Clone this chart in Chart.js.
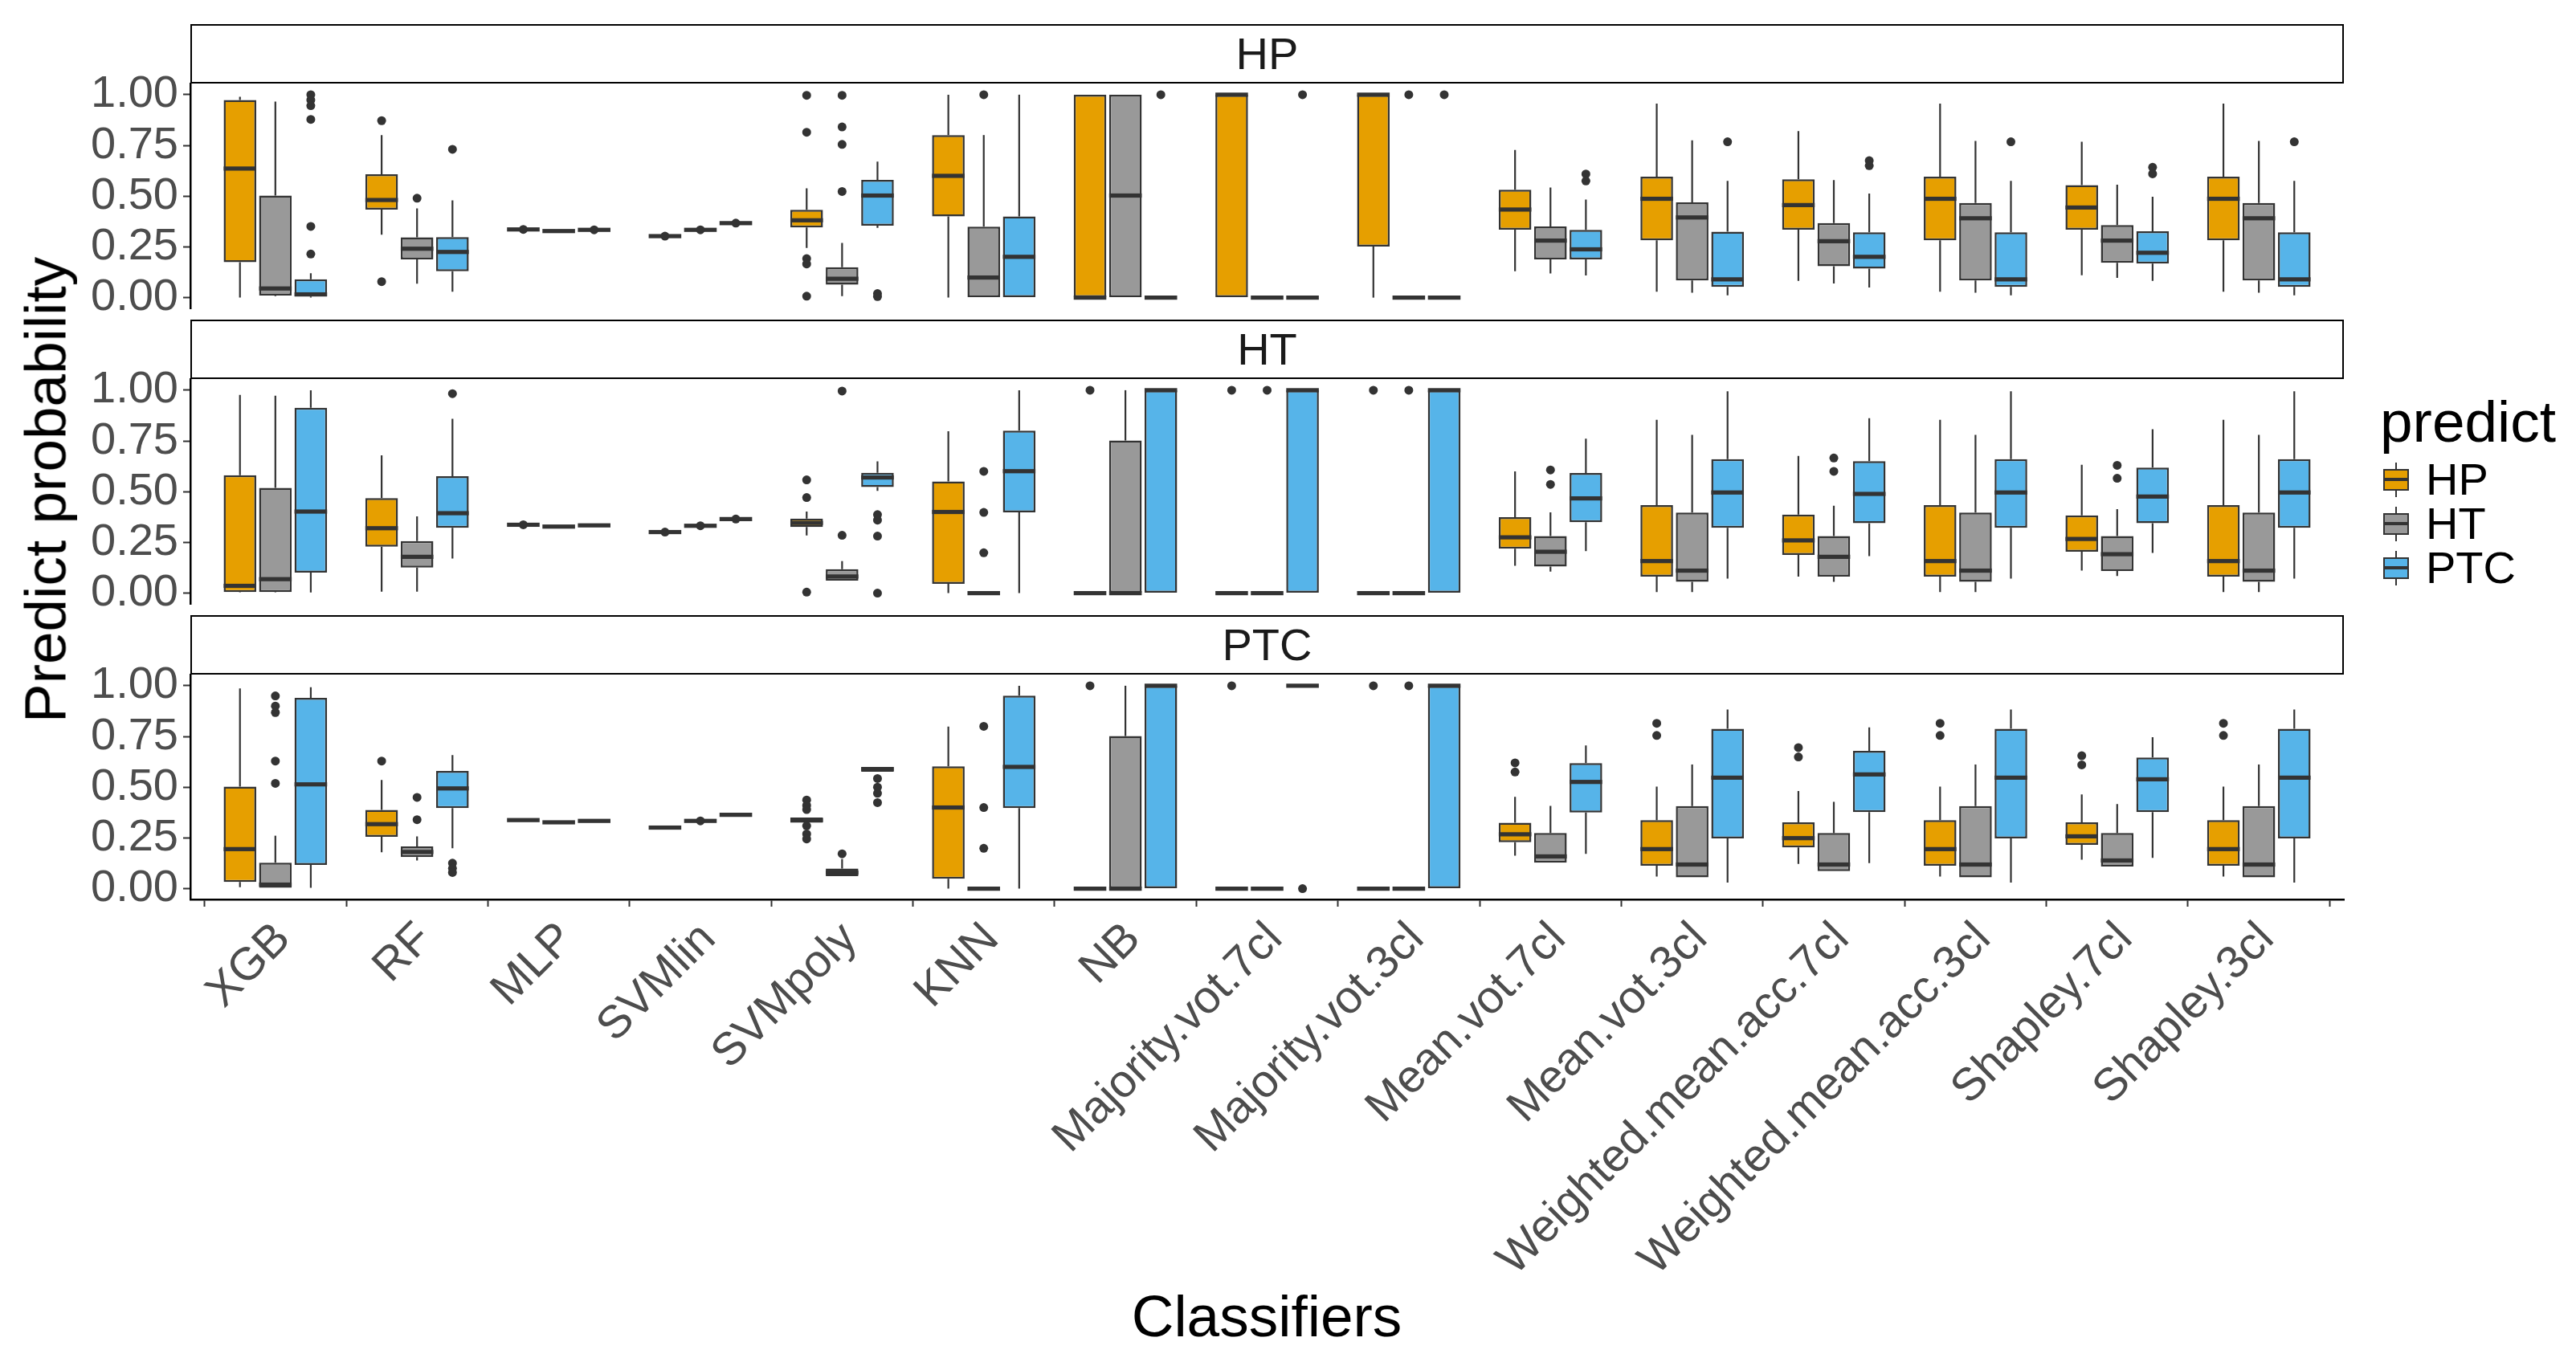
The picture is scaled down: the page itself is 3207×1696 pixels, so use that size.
<!DOCTYPE html>
<html>
<head>
<meta charset="utf-8">
<script src="https://cdn.jsdelivr.net/npm/chart.js@4.4.1/dist/chart.umd.min.js"></script>
<style>
  html, body { margin: 0; padding: 0; background: #ffffff; }
  body { width: 3207px; height: 1696px; position: relative; overflow: hidden;
         font-family: "Liberation Sans", Arial, Helvetica, sans-serif; }
  .strip { position: absolute; left: 237px; width: 2681px; height: 74px; box-sizing: border-box;
           border: 2.5px solid #000; background: #fff; display: flex; align-items: center;
           justify-content: center; font-size: 56px; color: #1a1a1a; line-height: 1; }
  .panel { position: absolute; left: 0; width: 2940px; }
  .ytitle { position: absolute; left: 56px; top: 610px; transform: translate(-50%, -50%) rotate(-90deg);
            white-space: nowrap; font-size: 73px; line-height: 1; color: #000; }
  .xtitle { position: absolute; left: 1577px; top: 1602px; transform: translateX(-50%);
            white-space: nowrap; font-size: 73px; line-height: 1; color: #000; }
  .legtitle { position: absolute; left: 2963px; top: 488px; font-size: 73px; line-height: 1; color: #000; }
  .legkey { position: absolute; left: 2967px; width: 32px; height: 55px; }
  .legkey .wh { position: absolute; left: 15px; width: 2px; top: 6px; height: 43px; background: #333; }
  .legkey .bx { position: absolute; left: 0; top: 14px; width: 32px; height: 27px; box-sizing: border-box;
                border: 2.5px solid #333; }
  .legkey .md { position: absolute; left: 0; top: 25.5px; width: 32px; height: 4px; background: #333; }
  .leglabel { position: absolute; left: 3020px; font-size: 56px; line-height: 56px; color: #000; }
</style>
</head>
<body>
<div class="strip" style="top:30px">HP</div>
<div class="strip" style="top:398px">HT</div>
<div class="strip" style="top:766px">PTC</div>

<div class="panel" style="top:64px;height:360px"><canvas id="cHP"></canvas></div>
<div class="panel" style="top:432px;height:360px"><canvas id="cHT"></canvas></div>
<div class="panel" style="top:800px;height:896px"><canvas id="cPTC"></canvas></div>

<div class="ytitle">Predict probability</div>
<div class="xtitle">Classifiers</div>
<div class="legtitle">predict</div>
<div id="legend"></div>

<script>
// ---------------- data ----------------
const categories = ["XGB", "RF", "MLP", "SVMlin", "SVMpoly", "KNN", "NB",
  "Majority.vot.7cl", "Majority.vot.3cl", "Mean.vot.7cl", "Mean.vot.3cl",
  "Weighted.mean.acc.7cl", "Weighted.mean.acc.3cl", "Shapley.7cl", "Shapley.3cl"];
const groups = ["HP", "HT", "PTC"];          // predicted class (fill)
const panels = ["HP", "HT", "PTC"];          // facet (true class)
const groupColors = ["#E69F00", "#999999", "#56B4E9"];
const yTicks = [0, 0.25, 0.5, 0.75, 1];

// each box: [lower whisker, Q1, median, Q3, upper whisker]
const panelHP_predHP = [
  [0.00, 0.175, 0.636, 0.974, 0.99], [0.31, 0.434, 0.481, 0.608, 0.801],
  [0.336, 0.336, 0.336, 0.336, 0.336], [0.303, 0.303, 0.303, 0.303, 0.303],
  [0.245, 0.346, 0.381, 0.433, 0.539], [0.00, 0.40, 0.60, 0.801, 1.00],
  [0, 0, 0, 1, 1], [0, 0, 1, 1, 1], [0, 0.252, 1, 1, 1],
  [0.13, 0.335, 0.434, 0.532, 0.728], [0.029, 0.282, 0.487, 0.596, 0.956],
  [0.083, 0.335, 0.456, 0.583, 0.821], [0.029, 0.282, 0.487, 0.596, 0.956],
  [0.11, 0.335, 0.444, 0.554, 0.768], [0.029, 0.282, 0.487, 0.596, 0.956]];
const panelHP_predHP_out = [[], [0.872, 0.079], [0.336], [0.303], [0.997, 0.815, 0.192, 0.166, 0.007],
  [], [], [], [], [], [], [], [], [], []];

const panelHP_predHT = [
  [0.007, 0.01, 0.045, 0.503, 0.966], [0.069, 0.188, 0.241, 0.297, 0.44],
  [0.328, 0.328, 0.328, 0.328, 0.328], [0.334, 0.334, 0.334, 0.334, 0.334],
  [0.007, 0.064, 0.093, 0.15, 0.27], [0, 0, 0.099, 0.35, 0.801],
  [0, 0, 0.503, 1, 1], [0, 0, 0, 0, 0], [0, 0, 0, 0, 0],
  [0.119, 0.188, 0.281, 0.351, 0.543], [0.024, 0.085, 0.395, 0.469, 0.775],
  [0.07, 0.155, 0.278, 0.367, 0.579], [0.024, 0.085, 0.391, 0.466, 0.772],
  [0.097, 0.172, 0.281, 0.358, 0.556], [0.024, 0.085, 0.391, 0.466, 0.772]];
const panelHP_predHT_out = [[], [0.49], [], [0.334], [0.997, 0.841, 0.755, 0.523],
  [1.0], [], [], [1.0], [], [], [], [], [], []];

const panelHP_predPTC = [
  [0, 0.005, 0.016, 0.09, 0.12], [0.029, 0.13, 0.225, 0.298, 0.479],
  [0.334, 0.334, 0.334, 0.334, 0.334], [0.367, 0.367, 0.367, 0.367, 0.367],
  [0.344, 0.355, 0.503, 0.58, 0.67], [0, 0, 0.201, 0.4, 1.0],
  [0, 0, 0, 0, 0], [0, 0, 0, 0, 0], [0, 0, 0, 0, 0],
  [0.109, 0.188, 0.238, 0.334, 0.483], [0.011, 0.053, 0.09, 0.325, 0.575],
  [0.05, 0.143, 0.201, 0.322, 0.513], [0.011, 0.053, 0.09, 0.322, 0.575],
  [0.083, 0.168, 0.221, 0.327, 0.497], [0.011, 0.053, 0.09, 0.322, 0.575]];
const panelHP_predPTC_out = [[1.0, 0.974, 0.946, 0.878, 0.351, 0.215], [0.731], [0.334], [0.367],
  [0.02, 0.005], [], [1], [1], [1], [0.609, 0.575], [0.768], [0.675, 0.65], [0.768], [0.642, 0.61], [0.768]];

const panelHT_predHP = [
  [0.003, 0.005, 0.036, 0.581, 0.977], [0.007, 0.229, 0.32, 0.468, 0.679],
  [0.337, 0.337, 0.337, 0.337, 0.337], [0.301, 0.301, 0.301, 0.301, 0.301],
  [0.284, 0.326, 0.346, 0.367, 0.402], [0, 0.046, 0.4, 0.55, 0.798],
  [0, 0, 0, 0, 0], [0, 0, 0, 0, 0], [0, 0, 0, 0, 0],
  [0.135, 0.219, 0.275, 0.374, 0.6], [0.005, 0.082, 0.158, 0.434, 0.854],
  [0.082, 0.188, 0.26, 0.387, 0.676], [0.005, 0.082, 0.158, 0.434, 0.854],
  [0.111, 0.204, 0.267, 0.383, 0.633], [0.005, 0.082, 0.158, 0.434, 0.854]];
const panelHT_predHP_out = [[], [], [0.337], [0.301], [0.558, 0.471, 0.005], [], [1], [1], [1],
  [], [], [], [], [], []];

const panelHT_predHT = [
  [0.003, 0.005, 0.069, 0.519, 0.973], [0.007, 0.126, 0.179, 0.257, 0.378],
  [0.328, 0.328, 0.328, 0.328, 0.328], [0.332, 0.332, 0.332, 0.332, 0.332],
  [0.062, 0.062, 0.082, 0.118, 0.158], [0, 0, 0, 0, 0],
  [0, 0, 0, 0.752, 1.0], [0, 0, 0, 0, 0], [0, 0, 0, 0, 0],
  [0.106, 0.131, 0.204, 0.281, 0.398], [0.005, 0.056, 0.111, 0.397, 0.78],
  [0.056, 0.082, 0.179, 0.281, 0.431], [0.005, 0.056, 0.111, 0.397, 0.78],
  [0.085, 0.109, 0.192, 0.281, 0.414], [0.005, 0.056, 0.111, 0.397, 0.78]];
const panelHT_predHT_out = [[], [], [], [0.332], [0.996, 0.285], [0.6, 0.398, 0.199], [], [1], [1],
  [0.607, 0.536], [], [0.666, 0.6], [], [0.63, 0.566], []];

const panelHT_predPTC = [
  [0.003, 0.101, 0.402, 0.914, 1.0], [0.171, 0.322, 0.394, 0.576, 0.859],
  [0.334, 0.334, 0.334, 0.334, 0.334], [0.365, 0.365, 0.365, 0.365, 0.365],
  [0.504, 0.523, 0.57, 0.593, 0.649], [0, 0.398, 0.601, 0.801, 1.0],
  [0, 0, 1, 1, 1], [0, 0, 1, 1, 1], [0, 0, 1, 1, 1],
  [0.207, 0.35, 0.467, 0.592, 0.761], [0.072, 0.322, 0.496, 0.66, 0.995],
  [0.182, 0.345, 0.489, 0.65, 0.862], [0.072, 0.322, 0.496, 0.66, 0.995],
  [0.198, 0.345, 0.476, 0.619, 0.808], [0.072, 0.322, 0.496, 0.66, 0.995]];
const panelHT_predPTC_out = [[], [0.983], [], [0.365], [0.387, 0.36, 0.281, 0.0], [], [], [], [],
  [], [], [], [], [], []];

const panelPTC_predHP = [
  [0.007, 0.033, 0.195, 0.503, 0.987], [0.179, 0.256, 0.318, 0.388, 0.536],
  [0.338, 0.338, 0.338, 0.338, 0.338], [0.301, 0.301, 0.301, 0.301, 0.301],
  [0.325, 0.325, 0.338, 0.351, 0.351], [0, 0.049, 0.4, 0.603, 0.799],
  [0, 0, 0, 0, 0], [0, 0, 0, 0, 0], [0, 0, 0, 0, 0],
  [0.163, 0.229, 0.268, 0.325, 0.453], [0.06, 0.113, 0.195, 0.338, 0.503],
  [0.122, 0.203, 0.249, 0.327, 0.481], [0.06, 0.113, 0.195, 0.338, 0.503],
  [0.143, 0.216, 0.258, 0.327, 0.464], [0.06, 0.113, 0.195, 0.338, 0.503]];
const panelPTC_predHP_out = [[], [0.629], [], [], [0.437, 0.41, 0.39, 0.31, 0.27, 0.245], [], [1], [1], [1],
  [0.62, 0.575], [0.815, 0.755], [0.695, 0.649], [0.815, 0.755], [0.655, 0.61], [0.815, 0.755]];

const panelPTC_predHT = [
  [0.004, 0.004, 0.02, 0.128, 0.261], [0.139, 0.156, 0.181, 0.208, 0.258],
  [0.327, 0.327, 0.327, 0.327, 0.327], [0.334, 0.334, 0.334, 0.334, 0.334],
  [0.062, 0.062, 0.079, 0.099, 0.146], [0, 0, 0, 0, 0],
  [0, 0, 0, 0.752, 1.0], [0, 0, 0, 0, 0], [0, 0, 0, 0, 0],
  [0.128, 0.128, 0.159, 0.274, 0.408], [0.056, 0.056, 0.119, 0.407, 0.612],
  [0.086, 0.086, 0.119, 0.274, 0.428], [0.056, 0.056, 0.119, 0.407, 0.612],
  [0.109, 0.109, 0.139, 0.274, 0.417], [0.056, 0.056, 0.119, 0.407, 0.612]];
const panelPTC_predHT_out = [[0.95, 0.9, 0.868, 0.629, 0.519], [0.45, 0.34], [], [0.334], [0.172],
  [0.8, 0.4, 0.199], [], [], [1], [], [], [], [], [], []];

const panelPTC_predPTC = [
  [0.004, 0.117, 0.514, 0.94, 0.993], [0.199, 0.397, 0.494, 0.58, 0.658],
  [0.334, 0.334, 0.334, 0.334, 0.334], [0.364, 0.364, 0.364, 0.364, 0.364],
  [0.576, 0.576, 0.589, 0.6, 0.6], [0, 0.397, 0.6, 0.951, 1.0],
  [0, 0, 1, 1, 1], [1, 1, 1, 1, 1], [0, 0, 1, 1, 1],
  [0.172, 0.375, 0.526, 0.619, 0.706], [0.03, 0.248, 0.547, 0.788, 0.883],
  [0.126, 0.377, 0.563, 0.679, 0.795], [0.03, 0.248, 0.547, 0.788, 0.883],
  [0.152, 0.377, 0.539, 0.646, 0.746], [0.03, 0.248, 0.547, 0.788, 0.883]];
const panelPTC_predPTC_out = [[], [0.126, 0.1, 0.08], [], [], [0.543, 0.5, 0.47, 0.424], [], [], [0], [],
  [], [], [], [], [], []];

// ---------------- drawing ----------------
const FONT = '"Liberation Sans", Arial, Helvetica, sans-serif';
const INK = '#333333';

const boxPlugin = {
  id: 'boxExtras',
  beforeDatasetsDraw(chart) {
    const ctx = chart.ctx, ys = chart.scales.y;
    ctx.save();
    ctx.strokeStyle = INK;
    ctx.lineWidth = 2.2;
    chart.data.datasets.forEach((ds, d) => {
      chart.getDatasetMeta(d).data.forEach((el, i) => {
        const s = ds.stats[i];
        ctx.beginPath();
        ctx.moveTo(el.x, ys.getPixelForValue(s[0]));
        ctx.lineTo(el.x, ys.getPixelForValue(s[1]));
        ctx.moveTo(el.x, ys.getPixelForValue(s[3]));
        ctx.lineTo(el.x, ys.getPixelForValue(s[4]));
        ctx.stroke();
      });
    });
    ctx.restore();
  },
  afterDatasetsDraw(chart) {
    const ctx = chart.ctx, ys = chart.scales.y;
    ctx.save();
    chart.data.datasets.forEach((ds, d) => {
      chart.getDatasetMeta(d).data.forEach((el, i) => {
        const s = ds.stats[i];
        const w = el.width;
        const ym = ys.getPixelForValue(s[2]);
        ctx.fillStyle = INK;
        ctx.fillRect(el.x - w / 2, ym - 2.6, w, 5.2);
        ds.outliers[i].forEach(v => {
          ctx.beginPath();
          ctx.arc(el.x, ys.getPixelForValue(v), 5.5, 0, Math.PI * 2);
          ctx.fill();
        });
      });
    });
    ctx.restore();
  }
};

function makePanel(canvasId, stats, outs, showX, xAxisH) {
  return new Chart(document.getElementById(canvasId), {
    type: 'bar',
    data: {
      datasets: groups.map((g, gi) => ({
        label: g,
        data: stats[gi].map((s, i) => ({ x: i + 1, y: [s[1], s[3]] })),
        stats: stats[gi],
        outliers: outs[gi],
        backgroundColor: groupColors[gi],
        borderColor: INK,
        borderWidth: 2.5,
        borderSkipped: false,
        categoryPercentage: 0.75,
        barPercentage: 0.92
      }))
    },
    options: {
      animation: false,
      responsive: true,
      maintainAspectRatio: false,
      events: [],
      layout: { padding: { top: 40, bottom: showX ? 0 : 40, left: 0, right: 22 } },
      plugins: { legend: { display: false }, tooltip: { enabled: false } },
      scales: {
        x: {
          type: 'linear', min: 0.4, max: 15.6, display: showX, offset: false,
          afterBuildTicks: s => { s.ticks = categories.map((c, i) => ({ value: i + 1 })); },
          afterFit: s => { if (showX) { s.height = xAxisH; } s.paddingLeft = 0; s.paddingRight = 0; },
          ticks: {
            autoSkip: false, maxRotation: 45, minRotation: 45, padding: 7, labelOffset: 10,
            color: '#4D4D4D', font: { size: 57, family: FONT },
            callback: v => categories[Math.round(v) - 1]
          },
          grid: { drawOnChartArea: false, drawTicks: true, tickLength: 9, tickColor: INK, tickWidth: 2 },
          border: { display: true, color: '#000', width: 2.5 }
        },
        y: {
          type: 'linear', min: -0.053, max: 1.055,
          afterBuildTicks: s => { s.ticks = yTicks.map(v => ({ value: v })); },
          afterFit: s => { s.width = 237; s.paddingTop = 0; s.paddingBottom = 0; },
          ticks: { autoSkip: false, color: '#4D4D4D', font: { size: 56, family: FONT }, padding: 6,
                   callback: v => Number(v).toFixed(2) },
          grid: { drawOnChartArea: false, drawTicks: true, tickLength: 9, tickColor: INK, tickWidth: 2 },
          border: { display: true, color: '#000', width: 2.5 }
        }
      }
    },
    plugins: [boxPlugin]
  });
}

makePanel('cHP', [panelHP_predHP, panelHP_predHT, panelHP_predPTC],
  [panelHP_predHP_out, panelHP_predHT_out, panelHP_predPTC_out], false, 0);
makePanel('cHT', [panelHT_predHP, panelHT_predHT, panelHT_predPTC],
  [panelHT_predHP_out, panelHT_predHT_out, panelHT_predPTC_out], false, 0);
makePanel('cPTC', [panelPTC_predHP, panelPTC_predHT, panelPTC_predPTC],
  [panelPTC_predHP_out, panelPTC_predHT_out, panelPTC_predPTC_out], true, 576);

// legend (boxplot keys)
const legend = document.getElementById('legend');
const keyCenters = [597, 652, 707];
groups.forEach((g, gi) => {
  const key = document.createElement('div');
  key.className = 'legkey';
  key.style.top = (keyCenters[gi] - 27.5) + 'px';
  key.innerHTML = '<div class="wh"></div><div class="bx" style="background:' + groupColors[gi] +
    '"></div><div class="md"></div>';
  legend.appendChild(key);
  const lab = document.createElement('div');
  lab.className = 'leglabel';
  lab.style.top = (keyCenters[gi] - 28) + 'px';
  lab.textContent = g;
  legend.appendChild(lab);
});
</script>
</body>
</html>
